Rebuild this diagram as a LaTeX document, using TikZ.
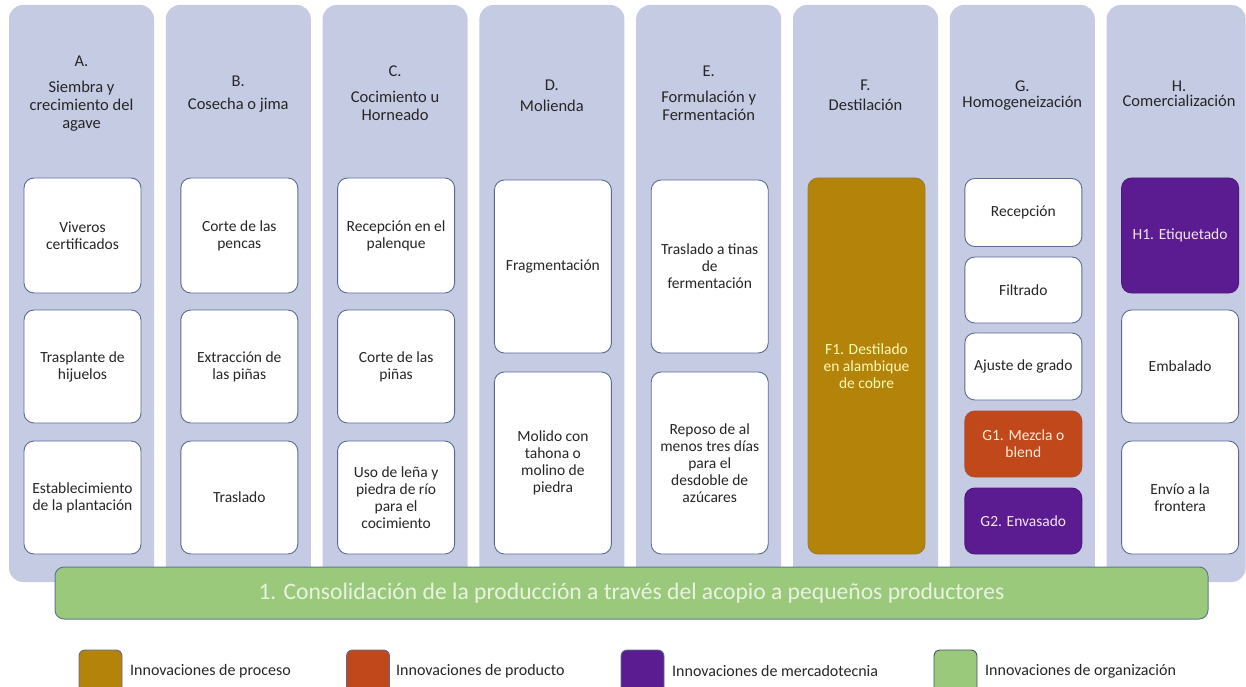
\documentclass[tikz,border=0pt]{standalone}
\usepackage{fontspec}
\setmainfont{Carlito}
\definecolor{colfill}{HTML}{C5CBE3}
\definecolor{boxline}{HTML}{5A6B94}
\definecolor{txt}{HTML}{262626}
\definecolor{proc}{HTML}{B3830A}
\definecolor{prod}{HTML}{C1481A}
\definecolor{mkt}{HTML}{5C1C91}
\definecolor{org}{HTML}{9BC97B}
\definecolor{orgline}{HTML}{5E7890}
\definecolor{orgtext}{HTML}{E8F3DF}
\newcommand{\stk}[1]{\vtop{\halign{\hfil##\hfil\cr#1\crcr}}}
\begin{document}
\begin{tikzpicture}[x=1pt,y=-1pt,
  column/.style={fill=colfill, rounded corners=14pt, minimum width=145pt, minimum height=577pt, inner sep=0pt},
  head/.style={anchor=base, inner sep=0pt, text=txt, font=\fontsize{16.5}{18}\selectfont},
  wbox/.style={draw=boxline, fill=white, line width=0.9pt, rounded corners=10pt, minimum width=117pt, inner sep=0pt, align=center, text=txt, font=\fontsize{15.5}{17}\selectfont},
  procbox/.style={wbox, fill=proc, draw=proc!75!boxline, text=yellow!30!white},
  prodbox/.style={wbox, fill=prod, draw=prod!75!boxline, text=orange!15!white},
  mktbox/.style={wbox, fill=mkt, draw=mkt!85!black, text=violet!10!white},
  legsq/.style={draw=boxline, line width=0.9pt, rounded corners=6pt, minimum width=43pt, minimum height=43pt, inner sep=0pt},
  legtxt/.style={anchor=west, inner sep=0pt, text=txt, font=\fontsize{16}{18}\selectfont}
]
\useasboundingbox (0,0) rectangle (1246,687);
\clip (0,0) rectangle (1246,687);
% columns
\foreach \i/\n in {0/A,1/B,2/C,3/D,4/E,5/F,6/G}
  \node[column] (col\n) at ({81.5+156.8*\i},293.5) {};
\node[column, minimum width=139pt] (colH) at (1176.1,293.5) {};
% headers
\node[head] (hA) at (81.5,67) {\stk{A.\cr\noalign{\vskip8pt}Siembra y\cr crecimiento del\cr agave}};
\node[head] (hB) at (238.3,87) {\stk{B.\cr\noalign{\vskip5pt}Cosecha o jima}};
\node[head] (hC) at (395.1,77) {\stk{C.\cr\noalign{\vskip8pt}Cocimiento u\cr Horneado}};
\node[head] (hD) at (551.9,91) {\stk{D.\cr\noalign{\vskip3pt}Molienda}};
\node[head] (hE) at (708.7,77) {\stk{E.\cr\noalign{\vskip8pt}Formulación y\cr Fermentación}};
\node[head] (hF) at (865.5,91) {\stk{F.\cr\noalign{\vskip2pt}Destilación}};
\node[head] (hG) at (1022.3,92) {\stk{G.\cr\noalign{\vskip-2pt}Homogeneización}};
\node[head] (hH) at (1179.1,92) {\stk{H.\cr\noalign{\vskip-3pt}Comercialización}};
% column A
\node[wbox, minimum height=115pt] (a1) at (82.5,235.5) {Viveros\\certificados};
\node[wbox, minimum height=113pt] (a2) at (82.5,366.5) {Trasplante de\\hijuelos};
\node[wbox, minimum height=113pt] (a3) at (82.5,497.5) {Establecimiento\\de la plantación};
% column B
\node[wbox, minimum height=115pt] (b1) at (239.3,235.5) {Corte de las\\pencas};
\node[wbox, minimum height=113pt] (b2) at (239.3,366.5) {Extracción de\\las piñas};
\node[wbox, minimum height=113pt] (b3) at (239.3,497.5) {Traslado};
% column C
\node[wbox, minimum height=115pt] (c1) at (396.1,235.5) {Recepción en el\\palenque};
\node[wbox, minimum height=113pt] (c2) at (396.1,366.5) {Corte de las\\piñas};
\node[wbox, minimum height=113pt] (c3) at (396.1,497.5) {Uso de leña y\\piedra de río\\para el\\cocimiento};
% column D
\node[wbox, minimum height=173pt] (d1) at (552.9,266.5) {Fragmentación};
\node[wbox, minimum height=182pt] (d2) at (552.9,463) {Molido con\\tahona o\\molino de\\piedra};
% column E
\node[wbox, minimum height=173pt] (e1) at (709.7,266.5) {Traslado a tinas\\de\\fermentación};
\node[wbox, minimum height=182pt] (e2) at (709.7,463) {Reposo de al\\menos tres días\\para el\\desdoble de\\azúcares};
% column F
\node[procbox, minimum height=376pt] (f1) at (866.5,366) {F1. Destilado\\en alambique\\de cobre};
% column G
\node[wbox, minimum height=68pt] (g1) at (1023.3,212.5) {Recepción};
\node[wbox, minimum height=66pt] (g2) at (1023.3,290) {Filtrado};
\node[wbox, minimum height=67pt] (g3) at (1023.3,366.5) {Ajuste de grado};
\node[prodbox, minimum height=66pt] (g4) at (1023.3,444) {G1. Mezcla o\\blend};
\node[mktbox, minimum height=66pt] (g5) at (1023.3,521) {G2. Envasado};
% column H
\node[mktbox, minimum height=115pt] (h1) at (1180.1,235.5) {H1. Etiquetado};
\node[wbox, minimum height=113pt] (h2) at (1180.1,366.5) {Embalado};
\node[wbox, minimum height=113pt] (h3) at (1180.1,497.5) {Envío a la\\frontera};
% green bar
\node[fill=org, draw=orgline, line width=1pt, rounded corners=9pt, minimum width=1153pt, minimum height=52pt, inner sep=0pt, text=orgtext, font=\fontsize{23.6}{25}\selectfont] (bar) at (631.5,593) {1. Consolidación de la producción a través del acopio a pequeños productores};
% legend
\node[legsq, fill=proc] (l1) at (100.5,671.5) {};
\node[legtxt] (t1) at (130,671) {Innovaciones de proceso};
\node[legsq, fill=prod] (l2) at (368,671.5) {};
\node[legtxt] (t2) at (396,671) {Innovaciones de producto};
\node[legsq, fill=mkt] (l3) at (642.5,671.5) {};
\node[legtxt] (t3) at (672,671) {Innovaciones de mercadotecnia};
\node[legsq, fill=org, draw=orgline!70!black] (l4) at (955.5,671.5) {};
\node[legtxt] (t4) at (985,671) {Innovaciones de organización};
\end{tikzpicture}
\end{document}
